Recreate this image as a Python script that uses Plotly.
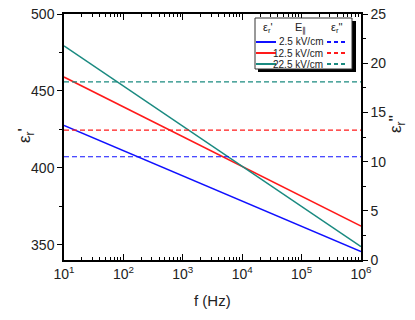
import plotly.graph_objects as go

freq = [1e1, 1e2, 1e3, 1e4, 1e5, 1e6]
field_labels = ["2.5 kV/cm", "12.5 kV/cm", "22.5 kV/cm"]
colors = ["#1010ff", "#ff1a1a", "#1a8a80"]
# epsilon' (left axis), read at each decade
eps_real = [
    [427.5, 411.1, 394.7, 378.3, 361.9, 345.5],
    [459.0, 439.6, 420.2, 400.8, 381.4, 362.0],
    [479.3, 453.2, 427.1, 401.0, 374.9, 348.7],
]
# epsilon'' (right axis), constant dashed levels
eps_imag = [10.5, 13.2, 18.1]

FONT = "Liberation Sans, Arial, sans-serif"
W, H = 415, 320
OFF = 8  # default page body margin
# desired plot area on screen: x 64..361, y 14..260
X0, X1, Y0, Y1 = 64, 361, 14, 260
L, T = X0 - OFF, Y0 - OFF
R = W + OFF - X1
B = H + OFF - Y1
PW, PH = X1 - X0, Y1 - Y0

def px(x):
    return (x - X0) / PW

def py(y):
    return (Y1 - y) / PH

fig = go.Figure()
for i in range(3):
    fig.add_trace(go.Scatter(x=freq, y=eps_real[i], mode="lines",
                             line=dict(color=colors[i], width=1.5),
                             showlegend=False, yaxis="y"))
    fig.add_trace(go.Scatter(x=[freq[0], freq[-1]], y=[eps_imag[i]] * 2, mode="lines",
                             line=dict(color=colors[i], width=1.1, dash="5px,3px"),
                             showlegend=False, yaxis="y2"))

minor_x = [m * 10 ** k for k in range(1, 6) for m in range(2, 10)]

fig.update_layout(
    width=W, height=H,
    margin=dict(l=L, r=R, t=T, b=B, autoexpand=False),
    paper_bgcolor="white", plot_bgcolor="white",
    font=dict(family=FONT, size=14, color="#222"),
    xaxis=dict(type="log", range=[1, 6], automargin=False, ticklabeloverflow="allow",
               tickvals=freq,
               ticktext=["10<sup>%d</sup>" % k for k in range(1, 7)],
               ticks="inside", ticklen=6, tickwidth=1, tickcolor="black",
               minor=dict(tickvals=minor_x, ticks="inside", ticklen=3, tickcolor="black"),
               showline=True, linecolor="black", linewidth=1.5, mirror="ticks",
               showgrid=False, zeroline=False),
    yaxis=dict(range=[340, 500], tickvals=[350, 400, 450, 500], automargin=False,
               ticklabeloverflow="allow",
               ticks="outside", ticklen=5, tickcolor="black",
               minor=dict(dtick=25, ticks="outside", ticklen=3, tickcolor="black"),
               showline=True, linecolor="black", linewidth=1.5,
               showgrid=False, zeroline=False),
    yaxis2=dict(range=[0, 25], tickvals=[0, 5, 10, 15, 20, 25], overlaying="y", side="right",
                automargin=False, ticklabeloverflow="allow",
                ticks="outside", ticklen=5, tickcolor="black",
                minor=dict(dtick=2.5, ticks="outside", ticklen=3, tickcolor="black"),
                showline=True, linecolor="black", linewidth=1.5,
                showgrid=False, zeroline=False),
)

# Legend box with shadow
shapes = []
shapes.append(dict(type="rect", xref="paper", yref="paper",
                   x0=px(258), x1=px(356), y0=py(72), y1=py(21),
                   fillcolor="black", line=dict(width=0)))
shapes.append(dict(type="rect", xref="paper", yref="paper",
                   x0=px(255), x1=px(352), y0=py(69), y1=py(18),
                   fillcolor="white", line=dict(color="#333", width=1)))
row_y = [42, 53, 64]
for i in range(3):
    shapes.append(dict(type="line", xref="paper", yref="paper",
                       x0=px(256), x1=px(276), y0=py(row_y[i]), y1=py(row_y[i]),
                       line=dict(color=colors[i], width=2)))
    shapes.append(dict(type="line", xref="paper", yref="paper",
                       x0=px(327), x1=px(347), y0=py(row_y[i]), y1=py(row_y[i]),
                       line=dict(color=colors[i], width=2, dash="4px,3px")))
fig.update_layout(shapes=shapes)

ann = []
for i in range(3):
    ann.append(dict(xref="paper", yref="paper", x=px(325), y=py(row_y[i]),
                    text=field_labels[i], showarrow=False, xanchor="right", yanchor="middle",
                    font=dict(size=10, family=FONT, color="#222")))
headers = [(268, "ε<sub>r</sub>'"), (300, "E<sub>∥</sub>"), (337, "ε<sub>r</sub>''")]
for x, t in headers:
    ann.append(dict(xref="paper", yref="paper", x=px(x), y=py(28),
                    text=t, showarrow=False, xanchor="center", yanchor="middle",
                    font=dict(size=11, family=FONT, color="#222")))
# Axis titles
ann.append(dict(xref="paper", yref="paper", x=px(26), y=py(136), text="ε<sub>r</sub>'",
                showarrow=False, textangle=-90, xanchor="center", yanchor="middle",
                font=dict(size=17, family=FONT, color="#222")))
ann.append(dict(xref="paper", yref="paper", x=px(397), y=py(124), text="ε<sub>r</sub>''",
                showarrow=False, textangle=-90, xanchor="center", yanchor="middle",
                font=dict(size=17, family=FONT, color="#222")))
ann.append(dict(xref="paper", yref="paper", x=px(212), y=py(300), text="f (Hz)",
                showarrow=False, xanchor="center", yanchor="middle",
                font=dict(size=15, family=FONT, color="#222")))
fig.update_layout(annotations=ann)

fig.write_html("out.html")
